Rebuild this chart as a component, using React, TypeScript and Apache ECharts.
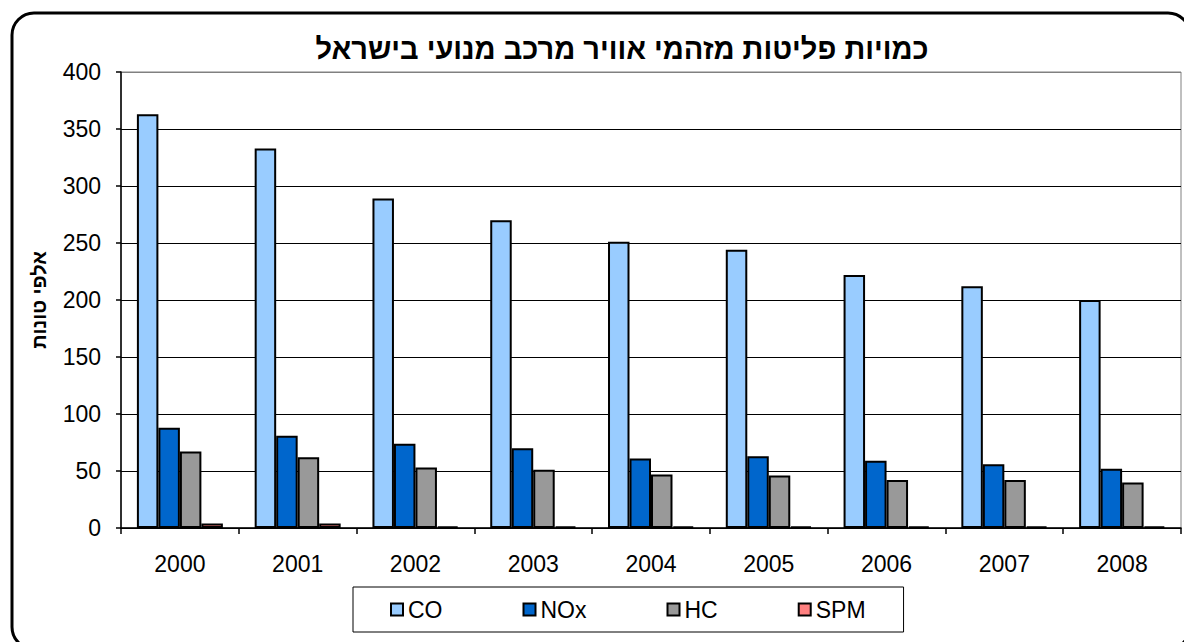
import React, { useEffect, useRef } from "react";
import * as echarts from "echarts";

const years = ["2000", "2001", "2002", "2003", "2004", "2005", "2006", "2007", "2008"];
const coValues = [363, 333, 289, 270, 251, 244, 222, 212, 200];
const noxValues = [88, 81, 74, 70, 61, 63, 59, 56, 52];
const hcValues = [67, 62, 53, 51, 47, 46, 42, 42, 40];
const spmValues = [4, 4, 1.3, 1.3, 1.3, 1.3, 1.3, 1.3, 1.3];
const seriesNames = ["CO", "NOx", "HC", "SPM"];
const seriesColors = ["#99CCFF", "#0066CC", "#999999", "#FF8080"];
const titleText = "כמויות פליטות מזהמי אוויר מרכב מנועי בישראל";
const yAxisTitle = "אלפי טונות";

const FONT = "Arial, 'Liberation Sans', sans-serif";

export default function App() {
  const ref = useRef<HTMLDivElement>(null);
  useEffect(() => {
    if (!ref.current) return;
    const chart = echarts.init(ref.current, null, { renderer: "svg" });
    const data = [coValues, noxValues, hcValues, spmValues];
    const gridColors = ["#000", "#000", "#000", "#000", "#000", "#000", "#000", "#000", "#808080"];
    chart.setOption({
      animation: false,
      backgroundColor: "#fff",
      title: {
        text: titleText,
        left: 617,
        top: 29,
        textAlign: "center",
        textStyle: { fontFamily: FONT, fontSize: 29, fontWeight: "bold", color: "#000" },
      },
      legend: {
        left: 353,
        top: 587,
        orient: "horizontal",
        itemWidth: 12,
        itemHeight: 12,
        itemGap: 80,
        icon: "rect",
        borderColor: "#000",
        borderWidth: 1,
        padding: [11, 38, 11, 37],
        textStyle: { fontFamily: FONT, fontSize: 23, color: "#000", lineHeight: 23 },
        data: seriesNames,
      },
      grid: {
        left: 121,
        right: 3,
        top: 72,
        bottom: 114,
        show: true,
        borderColor: "#808080",
        borderWidth: 1,
      },
      xAxis: {
        type: "category",
        data: years,
        axisLine: { lineStyle: { color: "#000", width: 1.5 } },
        axisTick: { show: true, length: 6, lineStyle: { color: "#000", width: 1.5 } },
        axisLabel: { fontFamily: FONT, fontSize: 23, color: "#000", margin: 24 },
      },
      yAxis: {
        type: "value",
        min: 0,
        max: 400,
        interval: 50,
        name: yAxisTitle,
        nameLocation: "middle",
        nameRotate: 90,
        nameGap: 72,
        nameTextStyle: { fontFamily: FONT, fontSize: 20, fontWeight: "bold", color: "#000" },
        axisLine: { show: true, lineStyle: { color: "#000", width: 1.5 } },
        axisTick: { show: true, length: 5, lineStyle: { color: "#000", width: 1.5 } },
        axisLabel: { fontFamily: FONT, fontSize: 23, color: "#000", margin: 20 },
        splitLine: { show: true, lineStyle: { color: gridColors, width: 1 } },
      },
      series: seriesNames.map((name, i) => ({
        name,
        type: "bar",
        data: data[i],
        barGap: "0%",
        barCategoryGap: "27%",
        itemStyle: { color: seriesColors[i], borderColor: "#000", borderWidth: 2 },
      })),
      graphic: [
        {
          type: "rect",
          shape: { x: 12, y: 13, width: 1178, height: 636, r: 22 },
          style: { fill: "none", stroke: "#000", lineWidth: 3 },
          silent: true,
          z: 100,
        },
      ],
    });
    return () => chart.dispose();
  }, []);
  return (
    <div
      ref={ref}
      style={{ position: "absolute", left: 0, top: 0, width: 1184, height: 642 }}
    />
  );
}
